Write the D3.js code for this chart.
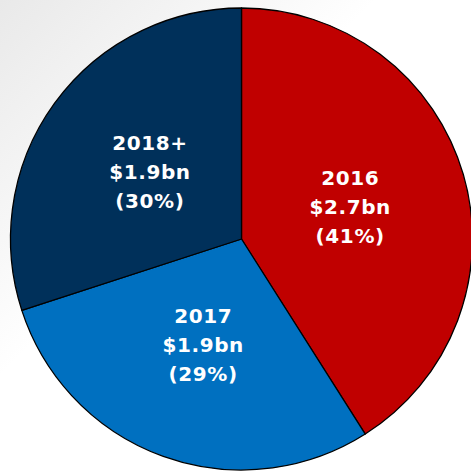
<!DOCTYPE html>
<html>
<head>
<meta charset="utf-8">
<script src="https://cdn.jsdelivr.net/npm/d3@7"></script>
<style>
  html, body { margin: 0; padding: 0; background: #fff; }
  #chart { width: 471px; height: 471px; }
</style>
</head>
<body>
<div id="chart"></div>
<script>
// DATA
const years = ["2016", "2017", "2018+"];
const amounts = ["$2.7bn", "$1.9bn", "$1.9bn"];
const shares = [41, 29, 30];
const colors = ["#c00000", "#0070c0", "#00305a"];

const width = 471;
const height = 471;
const cx = 241.5, cy = 239, radius = 231;

const svg = d3.select("#chart").append("svg")
	.attr("width", width)
	.attr("height", height);

// soft grey shading in the top-left corner
const defs = svg.append("defs");
const grad = defs.append("linearGradient")
	.attr("id", "bg")
	.attr("x1", "0").attr("y1", "0")
	.attr("x2", "1").attr("y2", "1");
grad.append("stop").attr("offset", "0%").attr("stop-color", "#e9e9e9");
grad.append("stop").attr("offset", "40%").attr("stop-color", "#ffffff");
grad.append("stop").attr("offset", "100%").attr("stop-color", "#ffffff");

svg.append("rect")
	.attr("width", width)
	.attr("height", height)
	.attr("fill", "url(#bg)");

const data = years.map((y, i) => ({ year: y, amount: amounts[i], share: shares[i], color: colors[i] }));

const pie = d3.pie()
	.value(d => d.share)
	.sort(null);

const arc = d3.arc()
	.innerRadius(0)
	.outerRadius(radius);

const labelArc = d3.arc()
	.innerRadius(0)
	.outerRadius(radius * 0.98);

const g = svg.append("g")
	.attr("transform", `translate(${cx}, ${cy})`);

const slices = g.selectAll("g.slice")
	.data(pie(data))
	.enter()
	.append("g")
	.attr("class", "slice");

slices.append("path")
	.attr("d", arc)
	.attr("fill", d => d.data.color)
	.attr("stroke", "#000")
	.attr("stroke-width", 1.3)
	.attr("stroke-linejoin", "round");

const lineH = 29;
slices.append("text")
	.attr("transform", d => `translate(${labelArc.centroid(d)})`)
	.attr("text-anchor", "middle")
	.attr("fill", "#fff")
	.style("font-family", "'DejaVu Sans', Verdana, sans-serif")
	.style("font-weight", "bold")
	.style("font-size", "20px")
	.style("letter-spacing", "0.6px")
	.selectAll("tspan")
	.data(d => [d.data.year, d.data.amount, `(${d.data.share}%)`])
	.enter()
	.append("tspan")
	.attr("x", 0)
	.attr("y", (t, i) => (i - 1) * lineH + 7)
	.text(t => t);
</script>
</body>
</html>
